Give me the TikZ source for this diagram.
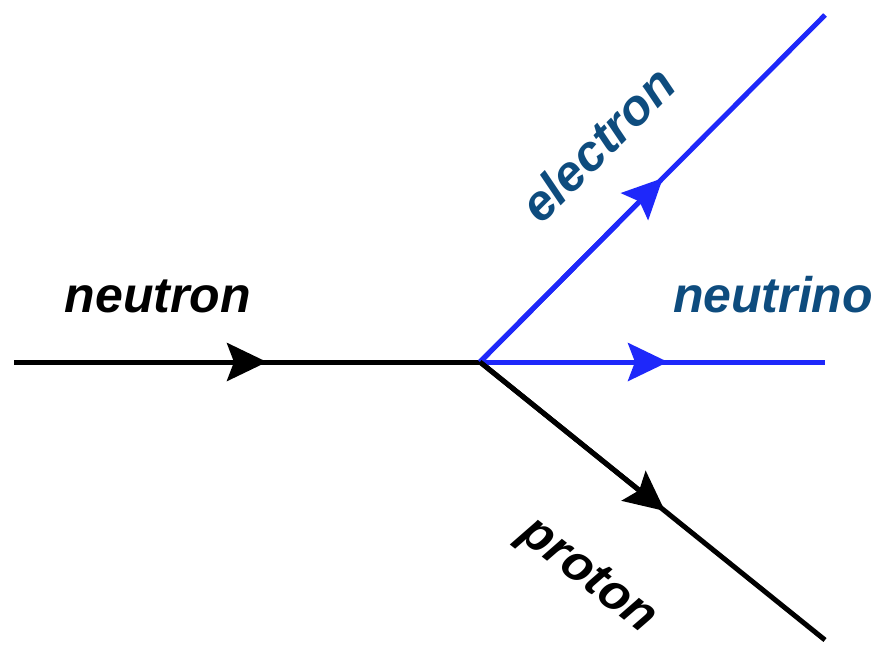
\documentclass[tikz,border=0pt]{standalone}
\usepackage{fontspec}
\setmainfont{Liberation Sans}
\usetikzlibrary{arrows.meta,calc}
\definecolor{lineblue}{RGB}{30,40,250}
\definecolor{labelblue}{RGB}{14,76,126}
\tikzset{
  particle/.style={line width=5pt},
  tipstyle/.style={-{Stealth[length=40pt,width=38pt,inset=7pt]}},
  lbl/.style={font=\fontsize{50}{60}\selectfont\bfseries\itshape, inner sep=0pt, anchor=base}
}
\begin{document}
\begin{tikzpicture}[x=1pt,y=-1pt]
\useasboundingbox (0,0) rectangle (878,654);
\coordinate (a) at (14,362);
\coordinate (v) at (480,362);
\coordinate (e) at (825,15);
\coordinate (nu) at (825,362);
\coordinate (p) at (825,640);
\coordinate (ta) at (267,362);
\coordinate (te) at ($(v)!0.53!(e)$);
\coordinate (tnu) at (668,362);
\coordinate (tp) at ($(v)!0.536!(p)$);
% lines
\draw[particle, lineblue] (v) -- (e);
\draw[particle, lineblue] (v) -- (nu);
\draw[particle, black] (v) -- (p);
\draw[particle, black] (a) -- (v);
% arrowheads
\draw[particle, black, tipstyle] (a) -- (ta);
\draw[particle, lineblue, tipstyle] (v) -- (te);
\draw[particle, lineblue, tipstyle] (v) -- (tnu);
\draw[particle, black, tipstyle] (v) -- (tp);
% labels
\node[lbl, text=black] (ln) at (158,312) {neutron};
\node[lbl, text=labelblue] (lnu) at (773,312) {neutrino};
\node[lbl, text=labelblue, rotate=45] (le) at (610,157) {electron};
\node[lbl, text=black, rotate=-38] (lp) at (580,586) {proton};
\end{tikzpicture}
\end{document}
